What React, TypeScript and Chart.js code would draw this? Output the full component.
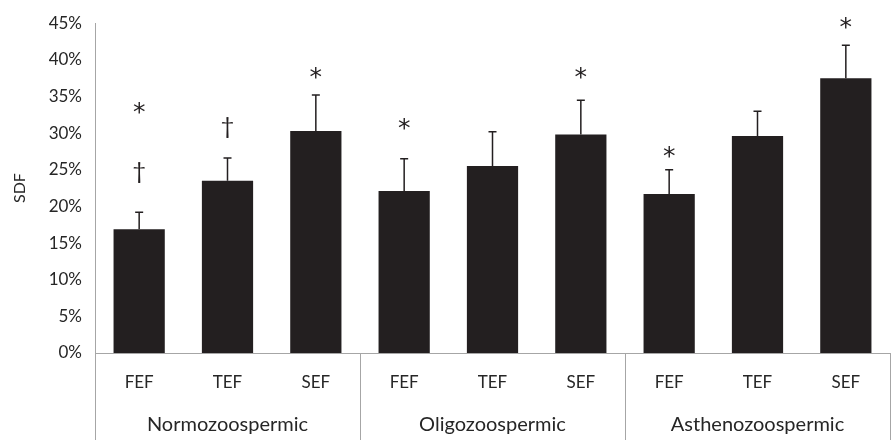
import React, { useEffect, useRef } from 'react';
import { Chart, registerables } from 'chart.js';

Chart.register(...registerables);

const categories = ['FEF', 'TEF', 'SEF', 'FEF', 'TEF', 'SEF', 'FEF', 'TEF', 'SEF'];
const groups = ['Normozoospermic', 'Oligozoospermic', 'Asthenozoospermic'];
const sdfValues = [16.9, 23.5, 30.3, 22.1, 25.5, 29.8, 21.7, 29.6, 37.5];
const sdfErrors = [2.3, 3.1, 4.9, 4.4, 4.7, 4.7, 3.3, 3.4, 4.5];
const yTicks = [0, 5, 10, 15, 20, 25, 30, 35, 40, 45];
const markText = ['*', '†', '†', '*', '*', '*', '*', '*'];
const markIndex = [0, 0, 1, 2, 3, 5, 6, 8];
const markValue = [33.4, 24.8, 30.9, 38.1, 31.2, 38.1, 27.4, 44.9];

const FONT = "Lato, 'Open Sans', sans-serif";
const MARKFONT = "'DejaVu Sans', sans-serif";
const INK = '#231f20';
const AXIS = '#a6a6a6';

const extrasPlugin = {
  id: 'extras',
  afterDatasetsDraw(chart: any) {
    const { ctx, chartArea, scales } = chart;
    const x = scales.x;
    const y = scales.y;
    ctx.save();
    // error bars
    ctx.strokeStyle = INK;
    ctx.lineWidth = 1.5;
    sdfValues.forEach((v, i) => {
      const px = x.getPixelForValue(i);
      const y0 = y.getPixelForValue(v);
      const y1 = y.getPixelForValue(v + sdfErrors[i]);
      ctx.beginPath();
      ctx.moveTo(px, y0);
      ctx.lineTo(px, y1);
      ctx.moveTo(px - 4, y1);
      ctx.lineTo(px + 4, y1);
      ctx.stroke();
    });
    // significance marks
    ctx.fillStyle = INK;
    ctx.textAlign = 'center';
    ctx.textBaseline = 'middle';
    markText.forEach((t, k) => {
      const px = x.getPixelForValue(markIndex[k]);
      const py = y.getPixelForValue(markValue[k]);
      if (t === '*') {
        ctx.font = `25px ${MARKFONT}`;
        ctx.fillText(t, px, py + 5);
      } else {
        ctx.font = `24px ${FONT}`;
        ctx.fillText(t, px, py);
      }
    });
    // group separators and labels
    const H = chart.height;
    ctx.strokeStyle = AXIS;
    ctx.lineWidth = 1;
    const per = 3;
    const step = x.getPixelForValue(1) - x.getPixelForValue(0);
    for (let g = 0; g <= groups.length; g++) {
      let sx = g === groups.length ? chartArea.right : x.getPixelForValue(g * per) - step / 2;
      sx = Math.round(sx) + 0.5;
      ctx.beginPath();
      ctx.moveTo(sx, g === 0 ? chartArea.top : chartArea.bottom);
      ctx.lineTo(sx, H);
      ctx.stroke();
    }
    ctx.fillStyle = '#262626';
    ctx.font = `20px ${FONT}`;
    ctx.textBaseline = 'middle';
    groups.forEach((gname, g) => {
      const cx = x.getPixelForValue(g * per + 1);
      ctx.fillText(gname, cx, 425);
    });
    ctx.restore();
  },
};

export default function App() {
  const ref = useRef<HTMLCanvasElement | null>(null);
  useEffect(() => {
    if (!ref.current) return;
    const chart = new Chart(ref.current, {
      type: 'bar',
      data: {
        labels: categories,
        datasets: [
          {
            data: sdfValues,
            backgroundColor: INK,
            borderWidth: 0,
            barPercentage: 0.58,
            categoryPercentage: 1,
          },
        ],
      },
      options: {
        animation: false,
        responsive: false,
        maintainAspectRatio: false,
        layout: { padding: { top: 19, right: 1, bottom: 0, left: 0 } },
        plugins: {
          legend: { display: false },
          tooltip: { enabled: false },
        },
        scales: {
          x: {
            grid: { display: false, drawTicks: false },
            border: { display: true, color: AXIS, width: 1 },
            ticks: {
              color: '#262626',
              font: { family: FONT, size: 17 },
              padding: 19,
              maxRotation: 0,
              autoSkip: false,
            },
            afterFit: (s: any) => {
              s.height = 87;
            },
          },
          y: {
            min: 0,
            max: 45,
            afterBuildTicks: (s: any) => {
              s.ticks = yTicks.map((v) => ({ value: v }));
            },
            grid: { display: false, drawTicks: false },
            border: { display: true, color: AXIS, width: 1 },
            ticks: {
              color: '#262626',
              font: { family: FONT, size: 17 },
              padding: 13,
              callback: (v: any) => `${v}%`,
            },
            title: {
              display: true,
              text: 'SDF',
              color: '#262626',
              font: { family: FONT, size: 16 },
              padding: { top: 10, bottom: 0 },
            },
            afterFit: (s: any) => {
              s.width = 95;
            },
          },
        },
      },
      plugins: [extrasPlugin],
    });
    return () => chart.destroy();
  }, []);
  return (
    <div style={{ position: 'fixed', left: 0, top: 0, width: 891, height: 440, background: '#fff' }}>
      <canvas ref={ref} width={891} height={440} style={{ display: 'block' }} />
    </div>
  );
}
